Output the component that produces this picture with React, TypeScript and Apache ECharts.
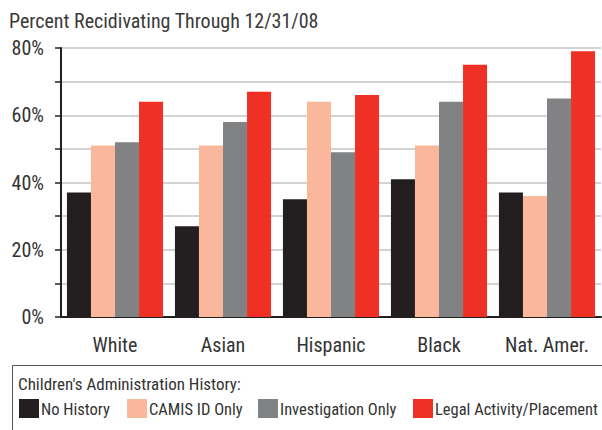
import React, { useEffect, useRef } from "react";
import * as echarts from "echarts";

const categories = ["White", "Asian", "Hispanic", "Black", "Nat. Amer."];
const seriesNames = ["No History", "CAMIS ID Only", "Investigation Only", "Legal Activity/Placement"];
const noHistory = [37, 27, 35, 41, 37];
const camisOnly = [51, 51, 64, 51, 36];
const investigationOnly = [52, 58, 49, 64, 65];
const legalActivity = [64, 67, 66, 75, 79];
const colors = ["#231f20", "#f9b79b", "#808284", "#ee3124"];
const titleText = "Percent Recidivating Through 12/31/08";
const legendTitle = "Children's Administration History:";

const FONT = "'Liberation Sans Narrow', 'Arial Narrow', 'Roboto Condensed', sans-serif";

export default function App() {
  const ref = useRef<HTMLDivElement>(null);
  useEffect(() => {
    document.body.style.margin = "0";
    if (!ref.current) return;
    const chart = echarts.init(ref.current, undefined, { renderer: "svg" });
    const values = [noHistory, camisOnly, investigationOnly, legalActivity];
    const legendX = [19, 127, 258, 413];
    const legendGraphics: any[] = [];
    seriesNames.forEach((n, i) => {
      legendGraphics.push({
        type: "rect",
        shape: { x: legendX[i], y: 399, width: 20, height: 19 },
        style: { fill: colors[i] },
      });
      legendGraphics.push({
        type: "text",
        x: legendX[i] + 22,
        y: 409,
        style: {
          text: n,
          fontSize: 16.5,
          fontFamily: FONT,
          fill: "#333333",
          textVerticalAlign: "middle",
        },
      });
    });
    chart.setOption({
      animation: false,
      grid: { left: 61, right: 1, top: 48, bottom: 113, containLabel: false },
      xAxis: {
        type: "category",
        data: categories,
        axisTick: { show: false },
        axisLine: { lineStyle: { color: "#231f20", width: 2 } },
        axisLabel: { interval: 0, fontSize: 20, color: "#333333", fontFamily: FONT, margin: 18 },
      },
      yAxis: {
        type: "value",
        min: 0,
        max: 80,
        interval: 10,
        axisLine: { show: true, lineStyle: { color: "#231f20", width: 2 } },
        axisTick: { show: true, length: 6, lineStyle: { color: "#231f20", width: 1.5 } },
        axisLabel: {
          fontSize: 20,
          color: "#333333",
          fontFamily: FONT,
          margin: 17,
          formatter: (v: number) => (v % 20 === 0 ? v + "%" : ""),
        },
        splitLine: { lineStyle: { color: "#c4c4c4", width: 1.5 } },
      },
      series: seriesNames.map((n, i) => ({
        name: n,
        type: "bar",
        data: values[i],
        barGap: "0%",
        barCategoryGap: "11%",
        itemStyle: { color: colors[i] },
      })),
      graphic: [
        {
          type: "text",
          x: 9,
          y: 21,
          style: {
            text: titleText,
            fontSize: 20,
            fontFamily: FONT,
            fill: "#3a3a3a",
            textVerticalAlign: "middle",
          },
        },
        {
          type: "rect",
          shape: { x: 12.5, y: 365.5, width: 620, height: 100 },
          style: { fill: "none", stroke: "#555555", lineWidth: 1 },
        },
        {
          type: "text",
          x: 18,
          y: 384,
          style: {
            text: legendTitle,
            fontSize: 17,
            fontFamily: FONT,
            fill: "#333333",
            textVerticalAlign: "middle",
          },
        },
        ...legendGraphics,
      ],
    });
    return () => chart.dispose();
  }, []);
  return <div ref={ref} style={{ width: 602, height: 430 }} />;
}
